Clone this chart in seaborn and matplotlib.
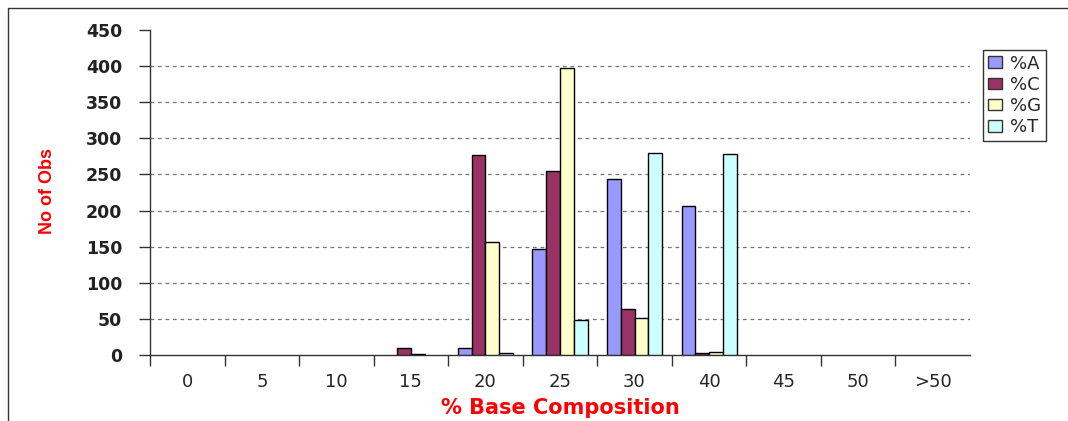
import matplotlib.pyplot as plt
import numpy as np
import pandas as pd
import seaborn as sns
from matplotlib.lines import Line2D
from matplotlib.patches import Patch

# %% data
bins = ["0", "5", "10", "15", "20", "25", "30", "40", "45", "50", ">50"]
pct_a = [0, 0, 0, 0, 10, 147, 244, 207, 0, 0, 0]
pct_c = [0, 0, 0, 10, 277, 255, 64, 3, 0, 0, 0]
pct_g = [0, 0, 0, 1, 156, 397, 51, 4, 0, 0, 0]
pct_t = [0, 0, 0, 0, 3, 48, 280, 279, 0, 0, 0]
bases = ["%A", "%C", "%G", "%T"]
colors = ["#9999FF", "#993366", "#FFFFCC", "#CCFFFF"]

df = pd.DataFrame({"bin": bins, "%A": pct_a, "%C": pct_c, "%G": pct_g, "%T": pct_t})
df = df.melt(id_vars="bin", var_name="base", value_name="count")

# %% plot
sns.set_style("white")
plt.rcParams["font.family"] = ["DejaVu Sans"]

fig = plt.figure(figsize=(10.68, 4.21), dpi=100)
ax = fig.add_axes([150 / 1068, 1 - 355 / 421, 820 / 1068, 325 / 421])

sns.barplot(
    data=df, x="bin", y="count", hue="base", order=bins, hue_order=bases,
    palette=colors, saturation=1, width=0.74, gap=0, edgecolor="black",
    linewidth=1, ax=ax, zorder=3, legend=False,
)
# empty bins have no visible bar
for p in ax.patches:
    if p.get_height() == 0:
        p.set_linewidth(0)

ax.set_ylim(0, 450)
ax.set_xlim(-0.5, len(bins) - 0.5)
ax.set_yticks(np.arange(0, 451, 50))
ax.set_yticklabels([str(v) for v in range(0, 451, 50)], fontsize=12.5, fontweight="bold", color="#222222")
ax.set_xticks(np.arange(len(bins)) - 0.5, minor=False)
ax.set_xticklabels([])
ax.set_xticks(np.arange(len(bins)), minor=True)
ax.set_xticklabels(bins, minor=True, fontsize=13)
ax.tick_params(axis="x", which="major", length=8, width=1, direction="out", color="#333333")
ax.tick_params(axis="x", which="minor", length=0, pad=13)
ax.tick_params(axis="y", length=8, width=1, direction="out", color="#333333", pad=12)
ax.tick_params(axis="both", bottom=True, left=True)

for v in range(50, 450, 50):
    ax.axhline(v, color="#777777", linestyle=(0, (3, 3)), linewidth=0.9, zorder=1)

for s in ["top", "right"]:
    ax.spines[s].set_visible(False)
for s in ["left", "bottom"]:
    ax.spines[s].set_color("#333333")
    ax.spines[s].set_linewidth(1)

ax.set_xlabel("% Base Composition", color="red", fontsize=15, fontweight="bold", labelpad=5)
ax.set_ylabel("")
fig.text(47 / 1068, 1 - 191 / 421, "No of Obs", rotation=90, color="red",
         fontsize=13, fontweight="bold", ha="center", va="center",
         family=["Liberation Sans Narrow", "Liberation Sans", "DejaVu Sans"])

handles = [Patch(facecolor=c, edgecolor="#333333", linewidth=1) for c in colors]
leg = fig.legend(
    handles, bases,
    loc="upper left", bbox_to_anchor=(983 / 1068, 1 - 50 / 421),
    frameon=True, fancybox=False,
    fontsize=13, handlelength=0.8, handleheight=0.6, handletextpad=0.45,
    labelspacing=0.18, borderpad=0.25, borderaxespad=0,
)
leg.get_frame().set_edgecolor("black")
leg.get_frame().set_linewidth(1)

# outer chart frame (left and top edges)
fig.add_artist(Line2D([8 / 1068, 8 / 1068], [0, 1 - 8 / 421], transform=fig.transFigure, color="#333333", lw=1))
fig.add_artist(Line2D([8 / 1068, 1], [1 - 8 / 421, 1 - 8 / 421], transform=fig.transFigure, color="#333333", lw=1))

fig.savefig("out.png", dpi=100)
